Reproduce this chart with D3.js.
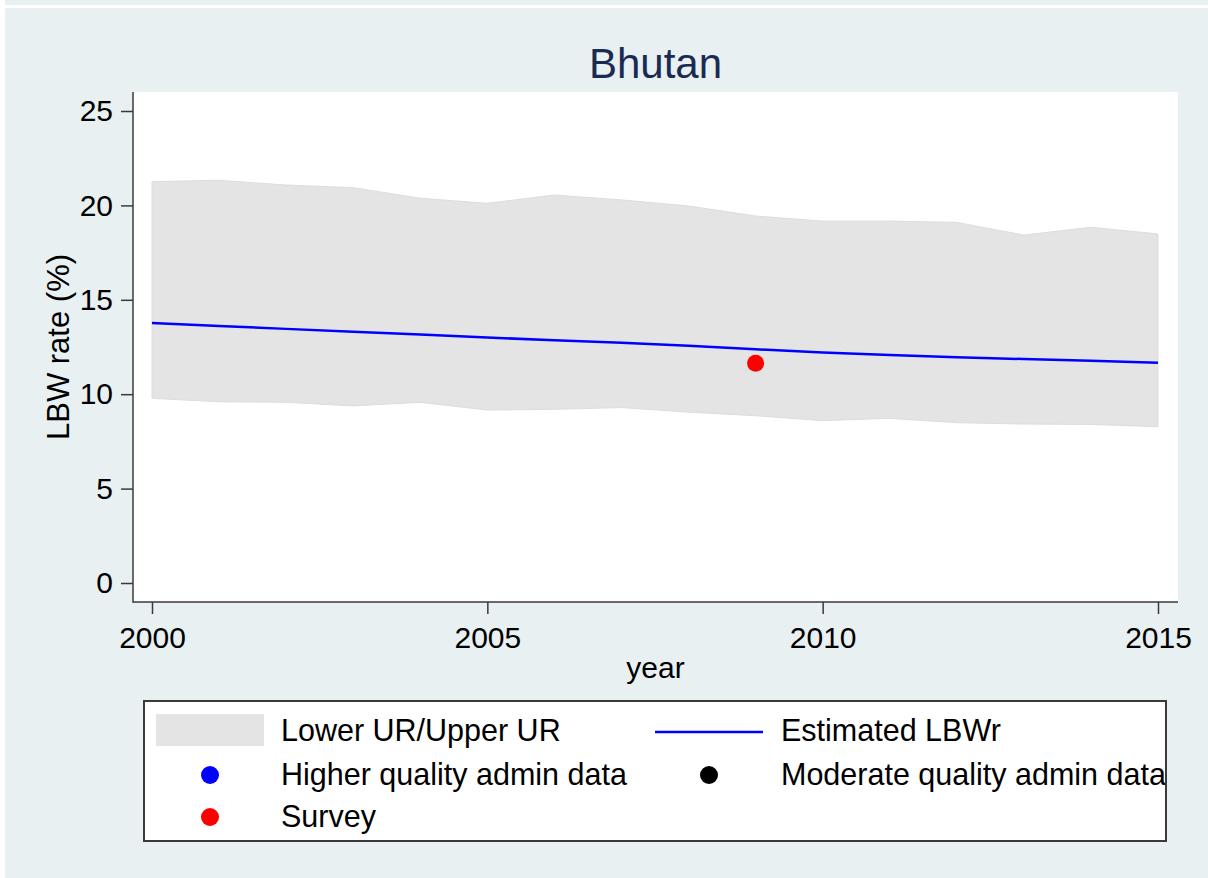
<!DOCTYPE html>
<html>
<head>
<meta charset="utf-8">
<script src="https://cdn.jsdelivr.net/npm/d3@7"></script>
<style>
  body { margin: 0; background: #fff; }
  text { font-family: "Liberation Sans", Arial, sans-serif; }
</style>
</head>
<body>
<div class="core_div"></div>
<script>

// Data
var years = [2000, 2001, 2002, 2003, 2004, 2005, 2006, 2007,
             2008, 2009, 2010, 2011, 2012, 2013, 2014, 2015];
var upperUR = [21.26, 21.33, 21.08, 20.94, 20.38, 20.11, 20.55, 20.29,
               19.97, 19.44, 19.17, 19.17, 19.10, 18.43, 18.84, 18.49];
var lowerUR = [9.78, 9.60, 9.57, 9.38, 9.57, 9.16, 9.20, 9.29,
               9.05, 8.86, 8.60, 8.72, 8.49, 8.42, 8.40, 8.28];
var estimated = [13.77, 13.61, 13.46, 13.31, 13.16, 13.00, 12.86, 12.72,
                 12.56, 12.38, 12.21, 12.07, 11.96, 11.86, 11.77, 11.67];
var surveyYears = [2009];
var surveyValues = [11.64];
var xTicks = [2000, 2005, 2010, 2015];
var yTicks = [0, 5, 10, 15, 20, 25];

var W = 1208, H = 878;
var plot = {left: 133, right: 1178, top: 92, bottom: 602};
var BG = "#e8f0f2";
var AXIS = "#3a3a3a";

var svg = d3.select(".core_div").append("svg")
    .attr("width", W)
    .attr("height", H);

// graph region background (with the thin white line near the top)
svg.append("rect").attr("x", 5).attr("y", 0).attr("width", W - 5).attr("height", 5).attr("fill", BG);
svg.append("rect").attr("x", 5).attr("y", 8).attr("width", W - 5).attr("height", H - 8).attr("fill", BG);

// plot region
svg.append("rect")
    .attr("x", plot.left).attr("y", plot.top)
    .attr("width", plot.right - plot.left)
    .attr("height", plot.bottom - plot.top)
    .attr("fill", "#fff");

var x = d3.scaleLinear().domain([2000, 2015]).range([152, 1158]);
var y = d3.scaleLinear().domain([0, 25]).range([583, 111]);

var rows = years.map(function(d, i) {
  return {year: d, lo: lowerUR[i], hi: upperUR[i], est: estimated[i]};
});

// uncertainty range band
var area = d3.area()
    .x(function(d) { return x(d.year); })
    .y0(function(d) { return y(d.lo); })
    .y1(function(d) { return y(d.hi); });

svg.append("path")
    .datum(rows)
    .attr("d", area)
    .attr("fill", "#e4e4e4")
    .attr("stroke", "#dddddd")
    .attr("stroke-width", 1);

// estimated LBW rate
var line = d3.line()
    .x(function(d) { return x(d.year); })
    .y(function(d) { return y(d.est); });

svg.append("path")
    .datum(rows)
    .attr("d", line)
    .attr("fill", "none")
    .attr("stroke", "#0000ff")
    .attr("stroke-width", 2.5);

// survey points
svg.selectAll("circle.survey")
    .data(surveyYears)
  .enter().append("circle")
    .attr("class", "survey")
    .attr("cx", function(d) { return x(d); })
    .attr("cy", function(d, i) { return y(surveyValues[i]); })
    .attr("r", 8.5)
    .attr("fill", "#ff0000");

// axes
var yAxis = svg.append("g")
    .attr("transform", "translate(" + plot.left + ",0)")
    .call(d3.axisLeft(y).tickValues(yTicks).tickSize(12).tickPadding(8));

var xAxis = svg.append("g")
    .attr("transform", "translate(0," + plot.bottom + ")")
    .call(d3.axisBottom(x).tickValues(xTicks).tickFormat(d3.format("d")).tickSize(12).tickPadding(13));

[yAxis, xAxis].forEach(function(g) {
  g.select(".domain").remove();
  g.selectAll(".tick line").attr("stroke", AXIS).attr("stroke-width", 1.5);
  g.selectAll(".tick text")
      .attr("fill", "#000")
      .style("font-size", "30px")
      .style("font-family", "'Liberation Sans', Arial, sans-serif");
});

svg.append("line")
    .attr("x1", plot.left).attr("x2", plot.left)
    .attr("y1", plot.top).attr("y2", plot.bottom + 0.75)
    .attr("stroke", AXIS).attr("stroke-width", 1.5);
svg.append("line")
    .attr("x1", plot.left).attr("x2", plot.right)
    .attr("y1", plot.bottom).attr("y2", plot.bottom)
    .attr("stroke", AXIS).attr("stroke-width", 1.5);

// titles
svg.append("text")
    .attr("x", (plot.left + plot.right) / 2)
    .attr("y", 78)
    .attr("text-anchor", "middle")
    .attr("fill", "#1a2b52")
    .style("font-size", "42px")
    .text("Bhutan");

svg.append("text")
    .attr("x", (plot.left + plot.right) / 2)
    .attr("y", 678)
    .attr("text-anchor", "middle")
    .style("font-size", "30px")
    .text("year");

svg.append("text")
    .attr("transform", "translate(69," + ((plot.top + plot.bottom) / 2) + ") rotate(-90)")
    .attr("text-anchor", "middle")
    .style("font-size", "31px")
    .text("LBW rate (%)");

// ****************** legend ***************************
var legendBox = {x: 144, y: 701, w: 1022, h: 140};

// long labels get cut at the legend border, like in the original
svg.append("defs").append("clipPath")
    .attr("id", "legend-clip")
  .append("rect")
    .attr("x", legendBox.x).attr("y", legendBox.y)
    .attr("width", legendBox.w).attr("height", legendBox.h);

svg.append("rect")
    .attr("x", legendBox.x).attr("y", legendBox.y)
    .attr("width", legendBox.w).attr("height", legendBox.h)
    .attr("fill", "#fff");

var legend = svg.append("g").attr("clip-path", "url(#legend-clip)");

legend.append("rect")
    .attr("x", 156).attr("y", 714)
    .attr("width", 108).attr("height", 32)
    .attr("fill", "#e4e4e4");

legend.append("line")
    .attr("x1", 655).attr("x2", 763)
    .attr("y1", 732).attr("y2", 732)
    .attr("stroke", "#0000ff")
    .attr("stroke-width", 2.5);

var dots = [
  {x: 210, y: 775, color: "#0000ff"},
  {x: 709, y: 775, color: "#000000"},
  {x: 210, y: 817, color: "#ff0000"}
];
legend.selectAll("circle")
    .data(dots)
  .enter().append("circle")
    .attr("cx", function(d) { return d.x; })
    .attr("cy", function(d) { return d.y; })
    .attr("r", 9)
    .attr("fill", function(d) { return d.color; });

var labels = [
  {x: 281, y: 741, t: "Lower UR/Upper UR"},
  {x: 781, y: 741, t: "Estimated LBWr"},
  {x: 281, y: 785, t: "Higher quality admin data"},
  {x: 781, y: 785, t: "Moderate quality admin data"},
  {x: 281, y: 827, t: "Survey"}
];
legend.selectAll("text")
    .data(labels)
  .enter().append("text")
    .attr("x", function(d) { return d.x; })
    .attr("y", function(d) { return d.y; })
    .style("font-size", "30.5px")
    .text(function(d) { return d.t; });

svg.append("rect")
    .attr("x", legendBox.x).attr("y", legendBox.y)
    .attr("width", legendBox.w).attr("height", legendBox.h)
    .attr("fill", "none")
    .attr("stroke", "#3a3a3a")
    .attr("stroke-width", 2);

</script>
</body>
</html>
